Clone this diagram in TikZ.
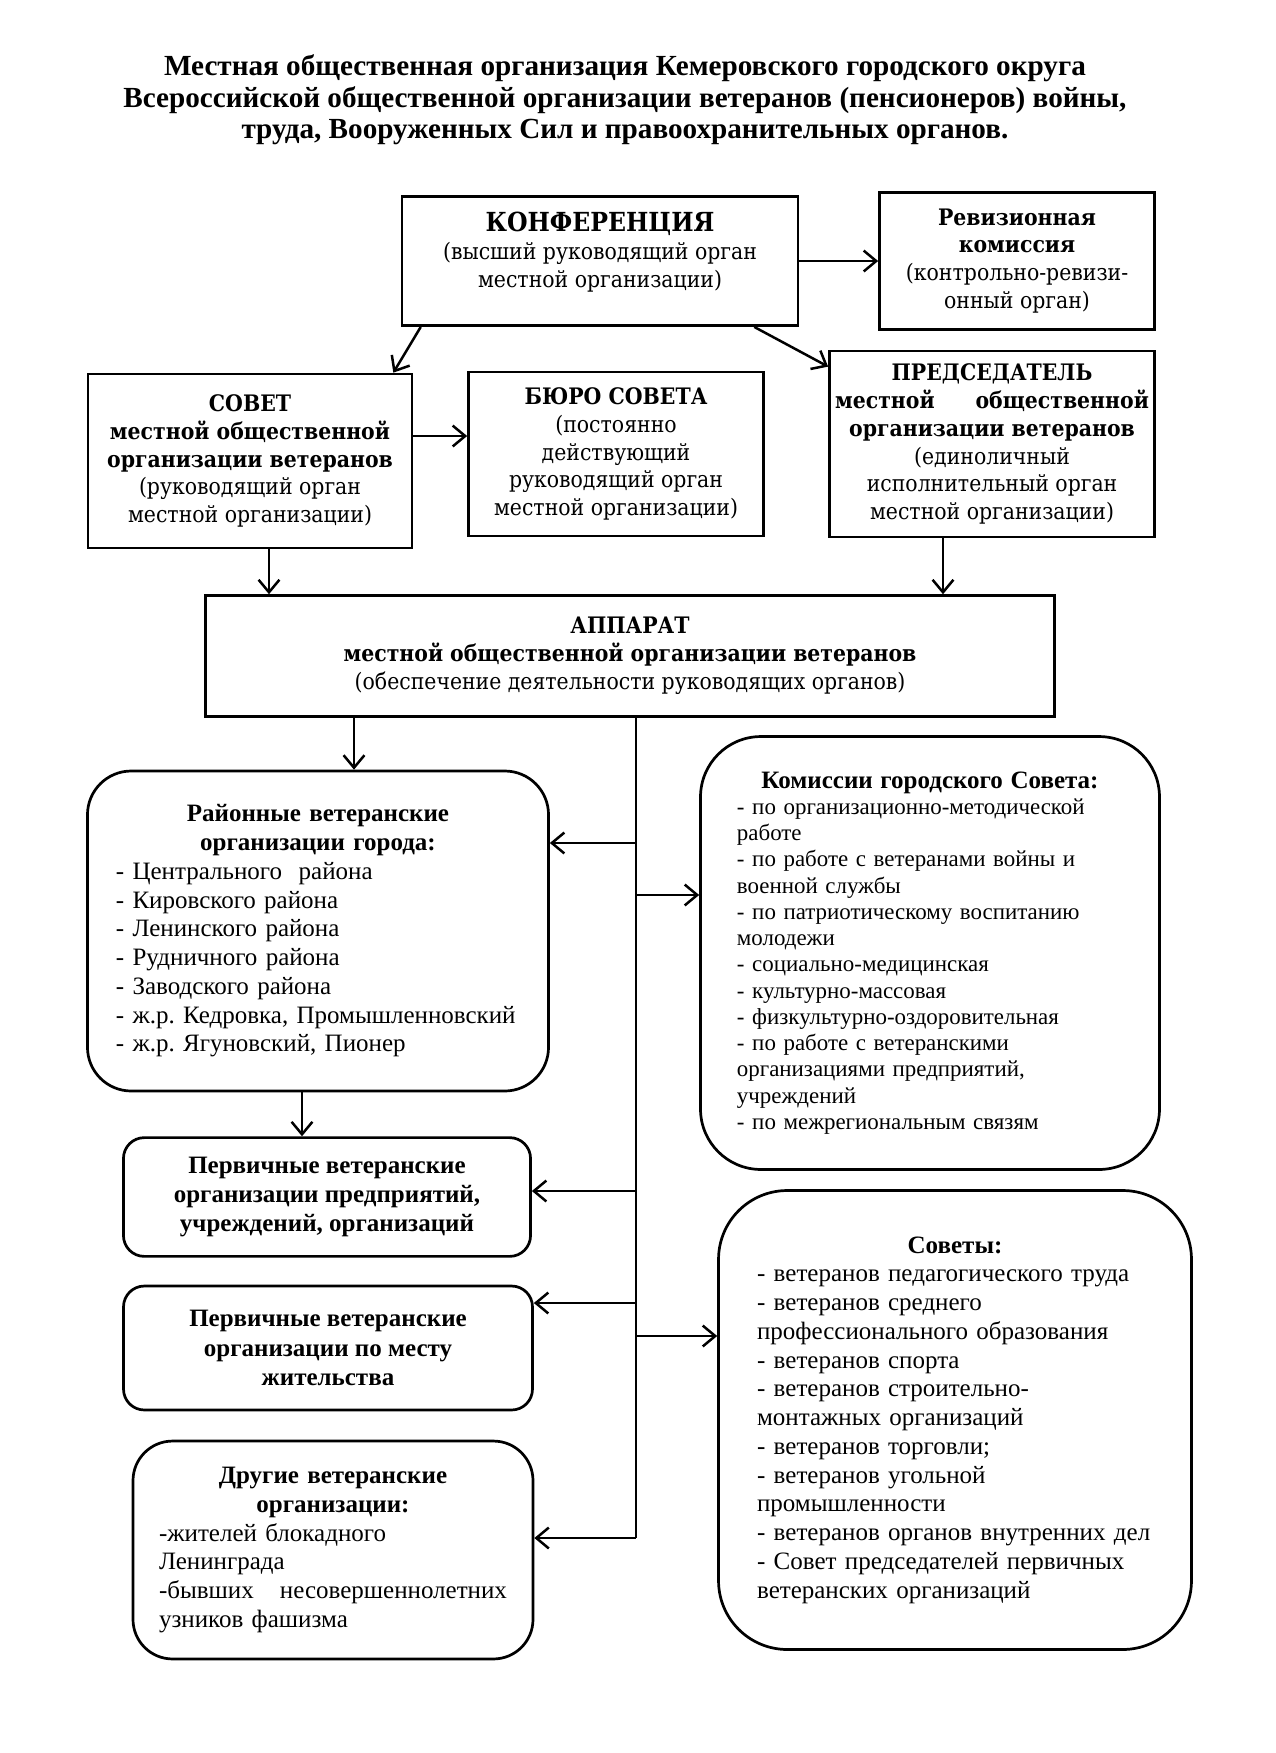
\documentclass[tikz,border=0pt]{standalone}
\usepackage{fontspec}
\setmainfont{Liberation Serif}
\newfontfamily\cambria{DejaVu Serif Condensed}
\usetikzlibrary{calc, arrows.meta, positioning}
\frenchspacing

\tikzstyle{heading}=[align=center, font=\bfseries\fontsize{14}{15.2}\selectfont]
\tikzstyle{organ}=[draw, line width=1.3pt, align=center, inner sep=2pt, font=\cambria\fontsize{10.9}{13.4}\selectfont]
\tikzstyle{unit}=[draw, line width=1.3pt, align=left, inner sep=2pt, font=\fontsize{12}{13.8}\selectfont]
\tikzstyle{arr}=[line width=1.2pt, -{Straight Barb[length=6pt,width=10pt]}]
\tikzstyle{trunk}=[line width=1.2pt]

\begin{document}
\begin{tikzpicture}[x=0.48pt, y=-0.48pt]
        \useasboundingbox (0,0) rectangle (1275,1753);

        % Title
        \node[heading] (title) at (625,100) {Местная общественная организация Кемеровского городского округа\\
                Всероссийской общественной организации ветеранов (пенсионеров) войны,\\
                труда, Вооруженных Сил и правоохранительных органов.};

        %% Governing bodies
        \node[organ, minimum width=190pt, minimum height=62pt, text depth=11pt] (konf) at (600,261)
                {\textbf{\fontsize{12.6}{15}\selectfont КОНФЕРЕНЦИЯ}\\(высший руководящий орган\\местной организации)};
        \node[organ, minimum width=132pt, minimum height=66pt] (rev) at (1017,261)
                {\textbf{Ревизионная}\\\textbf{комиссия}\\(контрольно-ревизи-\\онный орган)};
        \node[organ, minimum width=155.5pt, minimum height=83.5pt] (sovet) at (250,461)
                {\textbf{СОВЕТ}\\\textbf{местной общественной}\\\textbf{организации ветеранов}\\(руководящий орган\\местной организации)};
        \node[organ, minimum width=141.6pt, minimum height=78.7pt] (buro) at (616,454)
                {\textbf{БЮРО СОВЕТА}\\(постоянно\\действующий\\руководящий орган\\местной организации)};
        \node[organ, minimum width=156pt, minimum height=89.3pt] (pred) at (992,444)
                {\textbf{ПРЕДСЕДАТЕЛЬ}\\\textbf{местной\hspace{1.8em}общественной}\\\textbf{организации ветеранов}\\(единоличный\\исполнительный орган\\местной организации)};
        \node[organ, minimum width=407.5pt, minimum height=58pt] (apparat) at (630,656)
                {\textbf{АППАРАТ}\\\textbf{местной общественной организации ветеранов}\\(обеспечение деятельности руководящих органов)};

        %% Organisations
        \node[unit, rounded corners=21pt, minimum width=221.3pt, minimum height=153.6pt, text width=194pt] (raion) at (318,931)
                {{\centering\bfseries Районные ветеранские\\организации города:\par}
                - Центрального\ \ района\\- Кировского района\\- Ленинского района\\- Рудничного района\\- Заводского района\\- ж.р. Кедровка, Промышленновский\\- ж.р. Ягуновский, Пионер};
        \node[unit, rounded corners=10pt, align=center, minimum width=195.4pt, minimum height=57pt, font=\bfseries\fontsize{12}{14}\selectfont] (perv1) at (327,1197)
                {Первичные ветеранские\\организации предприятий,\\учреждений, организаций};
        \node[unit, rounded corners=10pt, align=center, minimum width=196.3pt, minimum height=59.5pt, font=\bfseries\fontsize{12}{14}\selectfont] (perv2) at (328,1348)
                {Первичные ветеранские\\организации по месту\\жительства};
        \node[unit, rounded corners=19pt, minimum width=192pt, minimum height=104.6pt, text width=167pt] (drugie) at (333,1550)
                {{\centering\bfseries Другие ветеранские\\организации:\par}
                -жителей блокадного\\Ленинграда\\\makebox[\linewidth][s]{-бывших\hfill несовершеннолетних}\\узников фашизма};
        \node[unit, rounded corners=29pt, minimum width=220.3pt, minimum height=207.8pt, text width=185.3pt, font=\fontsize{11}{12.6}\selectfont] (komissii) at (930,953)
                {{\centering\bfseries\fontsize{12}{13}\selectfont Комиссии городского Совета:\par}
                - по организационно-методической\\работе\\- по работе с ветеранами войны и\\военной службы\\- по патриотическому воспитанию\\молодежи\\- социально-медицинская\\- культурно-массовая\\- физкультурно-оздоровительная\\- по работе с ветеранскими\\организациями предприятий,\\учреждений\\- по межрегиональным связям};
        \node[unit, rounded corners=33pt, minimum width=227pt, minimum height=220.3pt, text width=190pt] (sovety) at (955,1420)
                {{\centering\bfseries Советы:\par}
                - ветеранов педагогического труда\\- ветеранов среднего\\профессионального образования\\- ветеранов спорта\\- ветеранов строительно-\\монтажных организаций\\- ветеранов торговли;\\- ветеранов угольной\\промышленности\\- ветеранов органов внутренних дел\\- Совет председателей первичных\\ветеранских организаций};

        %% Arrows between governing bodies
        \draw[arr] (konf.east) -- (rev.west);
        \draw[arr] ($(konf.south west)+(20,0)$) -- ($(sovet.north east)+(-20,0)$);
        \draw[arr] ($(konf.south east)+(-45,0)$) -- ($(pred.north west)+(0,17)$);
        \draw[arr] ([yshift=12pt]sovet.east) -- ([yshift=12pt]sovet.east -| buro.west);
        \coordinate (s1) at ($(sovet.south)+(19,0)$);
        \draw[arr] (s1) -- (s1 |- apparat.north);
        \coordinate (p1) at ($(pred.south)+(-49,0)$);
        \draw[arr] (p1) -- (p1 |- apparat.north);

        %% Apparat downwards
        \coordinate (r1) at ($(raion.north)+(36,0)$);
        \draw[arr] (r1 |- apparat.south) -- (r1);
        \coordinate (r2) at ($(raion.south)+(-16,0)$);
        \draw[arr] (r2) -- (r2 |- perv1.north);

        %% Trunk
        \coordinate (ttop) at ($(apparat.south)+(6,0)$);
        \coordinate (tbot) at (ttop |- 0,1538);
        \draw[trunk] (ttop) -- (tbot);
        \foreach \y/\n in {843/raion, 1191/perv1, 1303/perv2, 1538/drugie} {
                \draw[arr] (ttop |- 0,\y) -- (\n.east |- 0,\y);
            }
        \foreach \y/\n in {895/komissii, 1336/sovety} {
                \draw[arr] (ttop |- 0,\y) -- (\n.west |- 0,\y);
            }

    \end{tikzpicture}
\end{document}
